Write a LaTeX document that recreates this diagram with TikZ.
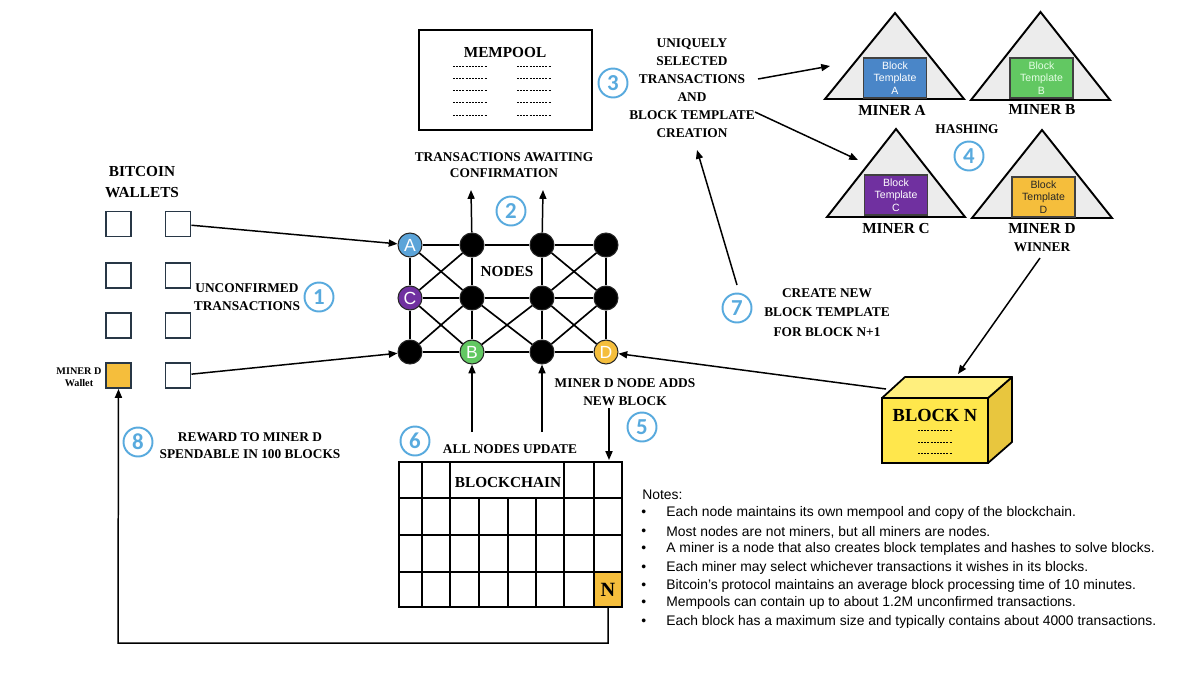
\documentclass[tikz,border=0pt]{standalone}
\usepackage{fontspec}
\setmainfont{Liberation Serif}
\newfontfamily\sansf{Liberation Sans}
\newfontfamily\numf{Carlito}
\usetikzlibrary{arrows.meta}
\definecolor{stepblue}{RGB}{88,170,222}
\definecolor{nodeA}{RGB}{91,164,217}
\definecolor{tplA}{RGB}{74,134,200}
\definecolor{tplB}{RGB}{98,200,98}
\definecolor{purp}{RGB}{112,48,160}
\definecolor{gold}{RGB}{245,190,60}
\definecolor{tri}{RGB}{236,236,236}
\definecolor{walletline}{RGB}{40,55,70}
\definecolor{blkfront}{RGB}{255,231,76}
\definecolor{blktop}{RGB}{255,239,125}
\definecolor{blkside}{RGB}{232,198,62}
\tikzset{
  lbl/.style={font=\bfseries\fontsize{7.6}{10.2}\selectfont, align=center, inner sep=0},
  hd/.style={font=\bfseries\fontsize{8.7}{12}\selectfont, align=center, inner sep=0},
  num/.style={circle, draw=stepblue, line width=1.1pt, minimum size=0.58cm, inner sep=0, text=stepblue, font=\numf\bfseries\fontsize{13}{13}\selectfont},
  net/.style={circle, minimum size=0.48cm, inner sep=0, draw=black!85, line width=0.6pt, fill=black, text=white, font=\sansf\fontsize{10}{10}\selectfont},
  arr/.style={-{Triangle[length=5pt,width=4pt]}, line width=0.85pt},
  edge/.style={line width=0.95pt},
  wallet/.style={draw=walletline, line width=1.1pt, minimum size=0.5cm, inner sep=0},
  tpl/.style={draw=black!75, line width=1pt, minimum width=1.26cm, minimum height=0.8cm, inner sep=0, align=center, font=\sansf\fontsize{6}{7}\selectfont},
  tri/.style={draw=black, fill=tri, line width=1.1pt, line join=miter},
  dots/.style={line width=0.45pt, dash pattern=on 1.1pt off 0.7pt},
  bc/.style={line width=1.6pt},
  notes/.style={font=\sansf\fontsize{7.9}{8.5}\selectfont, anchor=west, inner sep=0}
}
\begin{document}
\begin{tikzpicture}[x=0.02cm,y=-0.02cm]
\useasboundingbox (0,0) rectangle (1200,674);
\fill[white] (0,0) rectangle (1200,674);

% ---------------- wallets
\node[hd] (wt) at (142,182) {BITCOIN\\WALLETS};
\node[wallet] (w00) at (118.5,224) {};
\node[wallet] (w10) at (178,224) {};
\node[wallet] (w01) at (118.5,275.5) {};
\node[wallet] (w11) at (178,275.5) {};
\node[wallet] (w02) at (118.5,325.5) {};
\node[wallet] (w12) at (178,325.5) {};
\node[wallet, fill=gold] (mdw) at (118.5,375.5) {};
\node[wallet] (w13) at (178,375.5) {};
\node[font=\bfseries\fontsize{5.8}{6.9}\selectfont, align=center, inner sep=0] (mdwl) at (79,377) {MINER D\\Wallet};
\node[lbl] (unc) at (247,297) {UNCONFIRMED\\TRANSACTIONS};
\node[num] (s1) at (319,297) {1};

% ---------------- node network
\node[net, fill=nodeA] (n00) at (410,245) {A};
\node[net] (n10) at (472,245) {};
\node[net] (n20) at (542,245) {};
\node[net] (n30) at (606,245) {};
\node[net, fill=purp] (n01) at (410,298) {C};
\node[net] (n11) at (472,298) {};
\node[net] (n21) at (542,298) {};
\node[net] (n31) at (606,298) {};
\node[net] (n02) at (410,352) {};
\node[net, fill=tplB] (n12) at (472,352) {B};
\node[net] (n22) at (542,352) {};
\node[net, fill=gold] (n32) at (606,352) {D};
\draw[edge] (n00) -- (n10) -- (n20) -- (n30);
\draw[edge] (n01) -- (n11) -- (n21) -- (n31);
\draw[edge] (n02) -- (n12) -- (n22) -- (n32);
\draw[edge] (n00) -- (n01) -- (n02);
\draw[edge] (n10) -- (n11) -- (n12);
\draw[edge] (n20) -- (n21) -- (n22);
\draw[edge] (n30) -- (n31) -- (n32);
\draw[edge] (n00) -- (n11);
\draw[edge] (n01) -- (n10);
\draw[edge] (n01) -- (n12);
\draw[edge] (n02) -- (n11);
\draw[edge] (n11) -- (n22);
\draw[edge] (n12) -- (n21);
\draw[edge] (n20) -- (n31);
\draw[edge] (n21) -- (n30);
\draw[edge] (n21) -- (n32);
\draw[edge] (n22) -- (n31);
\node[hd] (nodes) at (507,272) {NODES};

\draw[arr] (w10) -- (n00);
\draw[arr] (w13) -- (n02);

% ---------------- mempool
\node[draw, line width=1.4pt, minimum width=3.46cm, minimum height=2cm, inner sep=0] (mem) at (505.5,80) {};
\node[hd] (memt) at (505,53) {MEMPOOL};
\foreach \yy in {66.7,78.3,90.7,102.3,115} {
  \draw[dots] (453,\yy) -- (487,\yy);
  \draw[dots] (517,\yy) -- (551,\yy);
}
\node[lbl, font=\bfseries\fontsize{7.6}{9.1}\selectfont] (await) at (504,165) {TRANSACTIONS AWAITING\\CONFIRMATION};
\coordinate (up1) at (471,190);
\coordinate (up2) at (543,190);
\draw[arr] (n10) -- (up1);
\draw[arr] (n20) -- (up2);
\node[num] (s2) at (511,211) {2};

% ---------------- selection
\node[num] (s3) at (613,83) {3};
\node[lbl] (uniq) at (692,88) {UNIQUELY\\SELECTED\\TRANSACTIONS\\AND\\BLOCK TEMPLATE\\CREATION};
\coordinate (a3s) at (758,79);
\coordinate (a3e) at (830,66);
\coordinate (c3s) at (755,112);
\coordinate (c3e) at (858,160);
\draw[arr] (a3s) -- (a3e);
\draw[arr] (c3s) -- (c3e);

% ---------------- miners
\draw[tri] (825,99) -- (895,13) -- (964,99) -- cycle;
\draw[tri] (971,100) -- (1040.5,12) -- (1110,100) -- cycle;
\draw[tri] (827,217) -- (896,129) -- (965,217) -- cycle;
\draw[tri] (972,218) -- (1042,130) -- (1112,218) -- cycle;
\node[tpl, fill=tplA, text=white] (tA) at (895,78) {Block\\Template\\A};
\node[tpl, fill=tplB, text=white!90!green] (tB) at (1041.5,78) {Block\\Template\\B};
\node[tpl, fill=purp, text=white] (tC) at (896,195) {Block\\Template\\C};
\node[tpl, fill=gold, text=black!85] (tD) at (1043.5,197) {Block\\Template\\D};
\node[hd] (mA) at (892,110) {MINER A};
\node[hd] (mB) at (1042,110) {MINER B};
\node[lbl] (hash) at (967,129) {HASHING};
\node[num] (s4) at (969,156) {4};
\node[hd] (mC) at (896,229) {MINER C};
\node[hd] (mD) at (1042,229) {MINER D};
\node[lbl] (win) at (1042,247) {WINNER};

% ---------------- block N
\draw[line width=1pt, fill=blkside, line join=round] (988,398) -- (1012,377) -- (1012,442) -- (988,463) -- cycle;
\draw[line width=1pt, fill=blktop, line join=round] (882,398) -- (905,377) -- (1012,377) -- (988,398) -- cycle;
\draw[line width=1pt, fill=blkfront] (882,398) rectangle (988,463);
\node[hd, font=\bfseries\fontsize{10.5}{12}\selectfont] (bn) at (935,415) {BLOCK N};
\foreach \yy in {430,442,453} { \draw[dots] (918,\yy) -- (952,\yy); }
\coordinate (wnr) at (1040,258);
\coordinate (btop) at (958,374);
\draw[arr] (wnr) -- (btop);
\coordinate (bnl) at (886,389);
\draw[arr] (bnl) -- (n32);

\node[num] (s7) at (737,308) {7};
\node[lbl, font=\bfseries\fontsize{7.6}{11}\selectfont] (cnew) at (827,312.5) {CREATE NEW\\BLOCK TEMPLATE\\FOR BLOCK N+1};
\coordinate (s7a) at (737,285);
\coordinate (s7b) at (697,150);
\draw[arr] (s7a) -- (s7b);

% ---------------- blockchain
\node[fill=gold, minimum width=0.56cm, minimum height=0.7cm, inner sep=0, font=\bfseries\fontsize{11.5}{12}\selectfont] (ncell) at (608,589.5) {N};
\draw[bc] (399,462) rectangle (622,607);
\foreach \yy in {498,535,572} { \draw[bc] (399,\yy) -- (622,\yy); }
\foreach \xx in {422,450,564,594} { \draw[bc] (\xx,462) -- (\xx,607); }
\foreach \xx in {479,508,536} { \draw[bc] (\xx,498) -- (\xx,607); }
\node[hd] (bct) at (508,483) {BLOCKCHAIN};

\node[num] (s6) at (415,441) {6};
\node[lbl] (upd) at (510,449) {ALL NODES UPDATE};
\coordinate (bu1) at (472,432);
\coordinate (bu2) at (542,432);
\draw[arr] (bu1) -- (n12);
\draw[arr] (bu2) -- (n22);

\node[lbl, font=\bfseries\fontsize{7.6}{10.2}\selectfont] (adds) at (625,392) {MINER D NODE ADDS\\NEW BLOCK};
\node[num] (s5) at (642,427) {5};
\coordinate (ad1) at (609,408);
\coordinate (ad2) at (609,460);
\draw[arr] (ad1) -- (ad2);

% ---------------- reward
\coordinate (fb) at (118,643);
\draw[arr] (ncell.south) |- (fb) -- (mdw.south);
\node[num] (s8) at (138,442) {8};
\node[lbl, font=\bfseries\fontsize{7.6}{9.6}\selectfont] (rew) at (250,445.5) {REWARD TO MINER D\\SPENDABLE IN 100 BLOCKS};

% ---------------- notes
\node[notes] (nt) at (642,495) {Notes:};
\foreach \yy/\tt [count=\i] in {
  513/{Each node maintains its own mempool and copy of the blockchain.},
  532/{Most nodes are not miners, but all miners are nodes.},
  549/{A miner is a node that also creates block templates and hashes to solve blocks.},
  568/{Each miner may select whichever transactions it wishes in its blocks.},
  586/{Bitcoin’s protocol maintains an average block processing time of 10 minutes.},
  603/{Mempools can contain up to about 1.2M unconfirmed transactions.},
  622/{Each block has a maximum size and typically contains about 4000 transactions.}} {
  \node[notes] (bul\i) at (641,\yy) {•};
  \node[notes] (note\i) at (666,\yy) {\tt};
}
\end{tikzpicture}
\end{document}
